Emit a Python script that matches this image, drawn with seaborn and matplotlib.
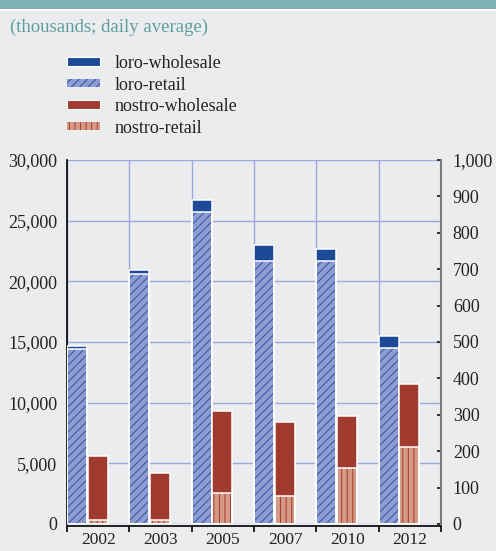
import numpy as np
import pandas as pd
import matplotlib
matplotlib.use("Agg")
import matplotlib.pyplot as plt
from matplotlib.patches import Patch, Rectangle
from matplotlib.ticker import FuncFormatter, MultipleLocator, FixedLocator
import seaborn as sns

years = ['2002', '2003', '2005', '2007', '2010', '2012']
loro_wholesale = [250, 370, 950, 1370, 990, 970]
loro_retail = [14450, 20600, 25750, 21650, 21650, 14500]
nostro_wholesale = [175, 129, 226, 204, 142, 173]
nostro_retail = [11, 10, 84, 77, 155, 212]

BG = '#ebeced'
TEAL = '#7fb0b5'
C_LW = '#1b4a96'
C_LR = '#8d9dd2'
H_LR = '#33509f'
C_NW = '#a13a2f'
C_NR = '#d49a84'
H_NR = '#a8392f'
GRID = '#9ca8de'

sns.set_style('white', {'axes.facecolor': BG, 'figure.facecolor': BG})
plt.rcParams['font.family'] = ['Liberation Serif', 'DejaVu Serif']
plt.rcParams['hatch.linewidth'] = 0.7

idx = np.arange(len(years))
df = pd.DataFrame({
    'year': years,
    'xl': idx - 0.34,
    'xn': idx - 0.01,
    'loro_total': np.array(loro_wholesale) + np.array(loro_retail),
    'loro_retail': loro_retail,
    'nostro_total': np.array(nostro_wholesale) + np.array(nostro_retail),
    'nostro_retail': nostro_retail,
})

fig = plt.figure(figsize=(4.96, 5.51), dpi=100)
fig.patch.set_facecolor(BG)
W, H = 496, 551
ax = fig.add_axes([67 / W, (H - 524) / H, (441 - 67) / W, (524 - 160) / H])
ax.set_facecolor(BG)

# top band
fig.patches.append(Rectangle((0, (H - 9) / H), 1, 9 / H, transform=fig.transFigure,
                             facecolor=TEAL, edgecolor='none', zorder=0))
fig.patches.append(Rectangle((0, (H - 11) / H), 1, 2 / H, transform=fig.transFigure,
                             facecolor='white', edgecolor='none', zorder=0))
fig.text(10 / W, 1 - 27 / H, '(thousands; daily average)', color='#5f9ea0',
         fontsize=13.5, va='center', ha='left')


def layer(axis, xcol, ycol, face, hatch=None, hcolor=None):
    n0 = len(axis.patches)
    sns.barplot(data=df, x=xcol, y=ycol, ax=axis, native_scale=True, width=0.32,
                color=face, saturation=1, linewidth=0, errorbar=None)
    for p in axis.patches[n0:]:
        p.set_facecolor(face)
        if hatch:
            p.set_edgecolor(hcolor)
            p.set_hatch(hatch)
        p.set_linewidth(0)
        p.set_zorder(2)
    n1 = len(axis.patches)
    sns.barplot(data=df, x=xcol, y=ycol, ax=axis, native_scale=True, width=0.32,
                color='white', fill=False, linewidth=1.1, errorbar=None)
    for p in axis.patches[n1:]:
        p.set_edgecolor('white')
        p.set_facecolor('none')
        p.set_zorder(2.1)


layer(ax, 'xl', 'loro_total', C_LW)
layer(ax, 'xl', 'loro_retail', C_LR, '////', H_LR)

ax2 = ax.twinx()
layer(ax2, 'xn', 'nostro_total', C_NW)
layer(ax2, 'xn', 'nostro_retail', C_NR, '|||', H_NR)

for a in (ax, ax2):
    a.set_xlim(-0.5, len(years) - 0.5)
    a.set_xlabel('')
    a.set_ylabel('')
ax.set_ylim(0, 30000)
ax2.set_ylim(0, 1000)

# x axis: ticks at boundaries, labels at centers
ax.xaxis.set_major_locator(FixedLocator(np.arange(-0.5, len(years), 1.0)))
ax.xaxis.set_major_formatter(FuncFormatter(lambda v, p: ''))
ax.xaxis.set_minor_locator(FixedLocator(idx))
ax.set_xticklabels(years, minor=True)
ax.tick_params(axis='x', which='major', direction='out', length=4, width=1.2,
               color='black', bottom=True)
ax.tick_params(axis='x', which='minor', length=0, pad=4, labelsize=12.5,
               labelcolor='#222222')

ax.yaxis.set_major_locator(MultipleLocator(5000))
ax.yaxis.set_major_formatter(FuncFormatter(lambda v, p: f'{int(v):,}'))
ax.tick_params(axis='y', length=0, pad=7, labelsize=13, labelcolor='#222222')

ax2.yaxis.set_major_locator(MultipleLocator(100))
ax2.yaxis.set_major_formatter(FuncFormatter(lambda v, p: f'{int(v):,}'))
ax2.tick_params(axis='y', direction='in', length=3, width=1.3, color='#222222',
                pad=8.5, labelsize=13, labelcolor='#222222')
ax2.tick_params(axis='x', bottom=False, labelbottom=False)

ax.grid(True, axis='both', which='major', color=GRID, linewidth=1)
ax.set_axisbelow(True)

for s in ['top', 'right']:
    ax.spines[s].set_visible(False)
ax.spines['left'].set_color('black')
ax.spines['left'].set_linewidth(1.2)
ax.spines['left'].set_zorder(0.6)
ax.spines['bottom'].set_color('black')
ax.spines['bottom'].set_linewidth(1.2)
ax.spines['bottom'].set_position(('outward', 1.5))

for s in ['top', 'left', 'bottom']:
    ax2.spines[s].set_visible(False)
ax2.spines['right'].set_color('#7a7a7a')
ax2.spines['right'].set_linewidth(1.5)
ax2.patch.set_visible(False)

handles = [
    Patch(facecolor=C_LW, edgecolor='white', linewidth=0.8),
    Patch(facecolor=C_LR, edgecolor=H_LR, hatch='////', linewidth=0),
    Patch(facecolor=C_NW, edgecolor='white', linewidth=0.8),
    Patch(facecolor=C_NR, edgecolor=H_NR, hatch='|||', linewidth=0),
]
labels = ['loro-wholesale', 'loro-retail', 'nostro-wholesale', 'nostro-retail']
fig.legend(handles, labels, loc='upper left', bbox_to_anchor=(67 / W, 1 - 55 / H),
           frameon=False, fontsize=13, handlelength=1.85, handleheight=0.35,
           handletextpad=0.8, labelspacing=0.25, borderpad=0, borderaxespad=0,
           labelcolor='#222222')

fig.savefig('out.png', dpi=100, facecolor=BG)
